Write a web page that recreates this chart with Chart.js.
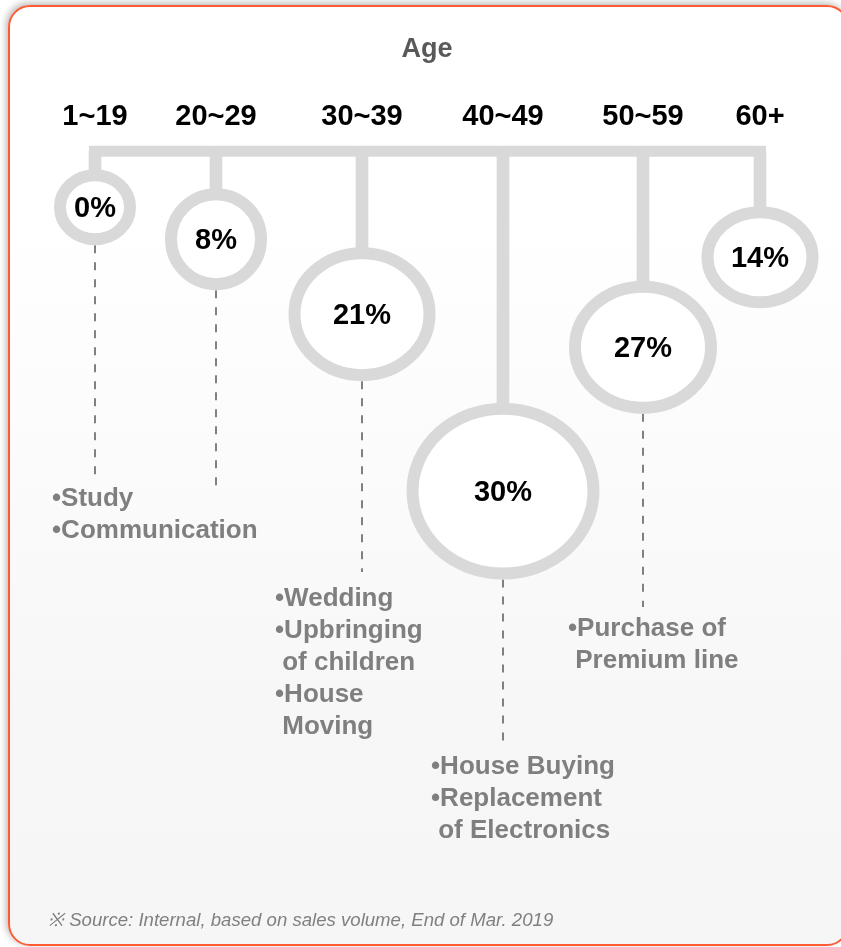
<!DOCTYPE html>
<html>
<head>
<meta charset="utf-8">
<title>Purchases by age</title>
<script src="https://cdn.jsdelivr.net/npm/chart.js@4.4.0/dist/chart.umd.min.js"></script>
<style>
  html, body { margin: 0; padding: 0; background: #fff; }
  .card {
    position: absolute; left: 8px; top: 5px;
    width: 837px; height: 937px;
    border: 2px solid #fe5a34; border-radius: 22px;
    background: linear-gradient(#ffffff 0%, #ffffff 22%, #fafafa 55%, #f7f7f7 75%, #f6f6f6 100%);
    box-shadow: -2px -2px 7px rgba(0, 0, 0, 0.28);
  }
  #chart { position: absolute; left: 0; top: 0; }
  .source {
    position: absolute; left: 48px; top: 906px;
    font: italic 18.6px "Liberation Sans", Arial, sans-serif;
    color: #808080; white-space: nowrap;
  }
</style>
</head>
<body>
<div class="card"></div>
<canvas id="chart" width="841" height="947"></canvas>
<div class="source">※ Source: Internal, based on sales volume, End of Mar. 2019</div>

<script>
const ageGroups = ['1~19', '20~29', '30~39', '40~49', '50~59', '60+'];
const shares = [0, 8, 21, 30, 27, 14];
const lifeEvents = [
  ['•Study', '•Communication'],
  [],
  ['•Wedding', '•Upbringing', ' of children', '•House', ' Moving'],
  ['•House Buying', '•Replacement', ' of Electronics'],
  ['•Purchase of', ' Premium line'],
  []
];

// layout in axis units (x: column centre, y: depth below the top bar)
const columnX = [95, 216, 362, 503, 643, 760];
const barDepth = 11;
const ringDepth = [67, 99, 174, 351, 207, 117];
const ringWidth = [82, 102, 147, 193, 148, 117];
const ringHeight = [76, 102, 134, 177, 133, 102];
const leaderEnd = [340, 352, 432, 605, 467, null];
const noteDepth = [359, null, 459, 627, 489, null];
const noteShift = [-43, 0, -87, -72, -75, 0];

const FONT = '"Liberation Sans", Arial, sans-serif';
const GREY_BAR = '#d9d9d9';
const RING = 12;

Chart.defaults.font.family = FONT;

// stems hang from the bar down to the top of each ring
const stems = {
  type: 'bar',
  data: columnX.map((x, i) => ({ x: x, y: [barDepth, ringDepth[i] - ringHeight[i] / 2 + RING / 2] })),
  backgroundColor: GREY_BAR,
  barThickness: 12,
  borderWidth: 0
};

const topBar = {
  type: 'line',
  data: [{ x: columnX[0] - 6, y: barDepth }, { x: columnX[columnX.length - 1] + 6, y: barDepth }],
  borderColor: GREY_BAR,
  borderWidth: 11,
  borderCapStyle: 'butt',
  pointRadius: 0
};

const leaders = [];
columnX.forEach((x, i) => {
  if (leaderEnd[i] == null) return;
  leaders.push({
    type: 'line',
    data: [{ x: x, y: ringDepth[i] + ringHeight[i] / 2 }, { x: x, y: leaderEnd[i] }],
    borderColor: '#808080',
    borderWidth: 2,
    borderDash: [8, 9],
    borderCapStyle: 'butt',
    pointRadius: 0
  });
});

// rings with the share inside, and the life-event notes
const ringsPlugin = {
  id: 'rings',
  afterDatasetsDraw(chart) {
    const { ctx, scales: { x, y } } = chart;
    ctx.save();
    columnX.forEach((cxVal, i) => {
      const cx = x.getPixelForValue(cxVal);
      const cy = y.getPixelForValue(ringDepth[i]);
      const rx = x.getPixelForValue(cxVal + ringWidth[i] / 2) - cx - RING / 2;
      const ry = y.getPixelForValue(ringDepth[i] + ringHeight[i] / 2) - cy - RING / 2;
      ctx.beginPath();
      ctx.ellipse(cx, cy, rx, ry, 0, 0, Math.PI * 2);
      ctx.fillStyle = '#ffffff';
      ctx.fill();
      ctx.lineWidth = RING;
      ctx.strokeStyle = GREY_BAR;
      ctx.stroke();

      ctx.fillStyle = '#000000';
      ctx.font = 'bold 29px ' + FONT;
      ctx.textAlign = 'center';
      ctx.textBaseline = 'middle';
      ctx.fillText(shares[i] + '%', cx, cy + 2);

      if (noteDepth[i] == null) return;
      ctx.fillStyle = '#7f7f7f';
      ctx.font = 'bold 26px ' + FONT;
      ctx.textAlign = 'left';
      const left = x.getPixelForValue(cxVal + noteShift[i]);
      lifeEvents[i].forEach((line, k) => {
        ctx.fillText(line, left, y.getPixelForValue(noteDepth[i] + k * 32));
      });
    });
    ctx.restore();
  }
};

new Chart(document.getElementById('chart'), {
  type: 'bar',
  data: { datasets: [stems, topBar, ...leaders] },
  plugins: [ringsPlugin],
  options: {
    responsive: false,
    animation: false,
    events: [],
    layout: { padding: { top: 24, left: 13, right: 0, bottom: 0 } },
    plugins: { legend: { display: false }, tooltip: { enabled: false } },
    scales: {
      x: {
        type: 'linear',
        position: 'top',
        min: 13,
        max: 841,
        offset: false,
        grid: { display: false, drawTicks: false, offset: false },
        border: { display: false },
        afterBuildTicks: axis => { axis.ticks = columnX.map(v => ({ value: v })); },
        ticks: {
          autoSkip: false,
          maxRotation: 0,
          padding: 6,
          color: '#000000',
          font: { size: 29, weight: 'bold' },
          callback: (v, i) => ageGroups[i]
        },
        title: {
          display: true,
          text: 'Age',
          color: '#595959',
          font: { size: 27, weight: 'bold' },
          padding: { top: 9, bottom: 28 }
        }
      },
      y: { type: 'linear', reverse: true, min: 0, max: 807, display: false }
    }
  }
});
</script>
</body>
</html>
